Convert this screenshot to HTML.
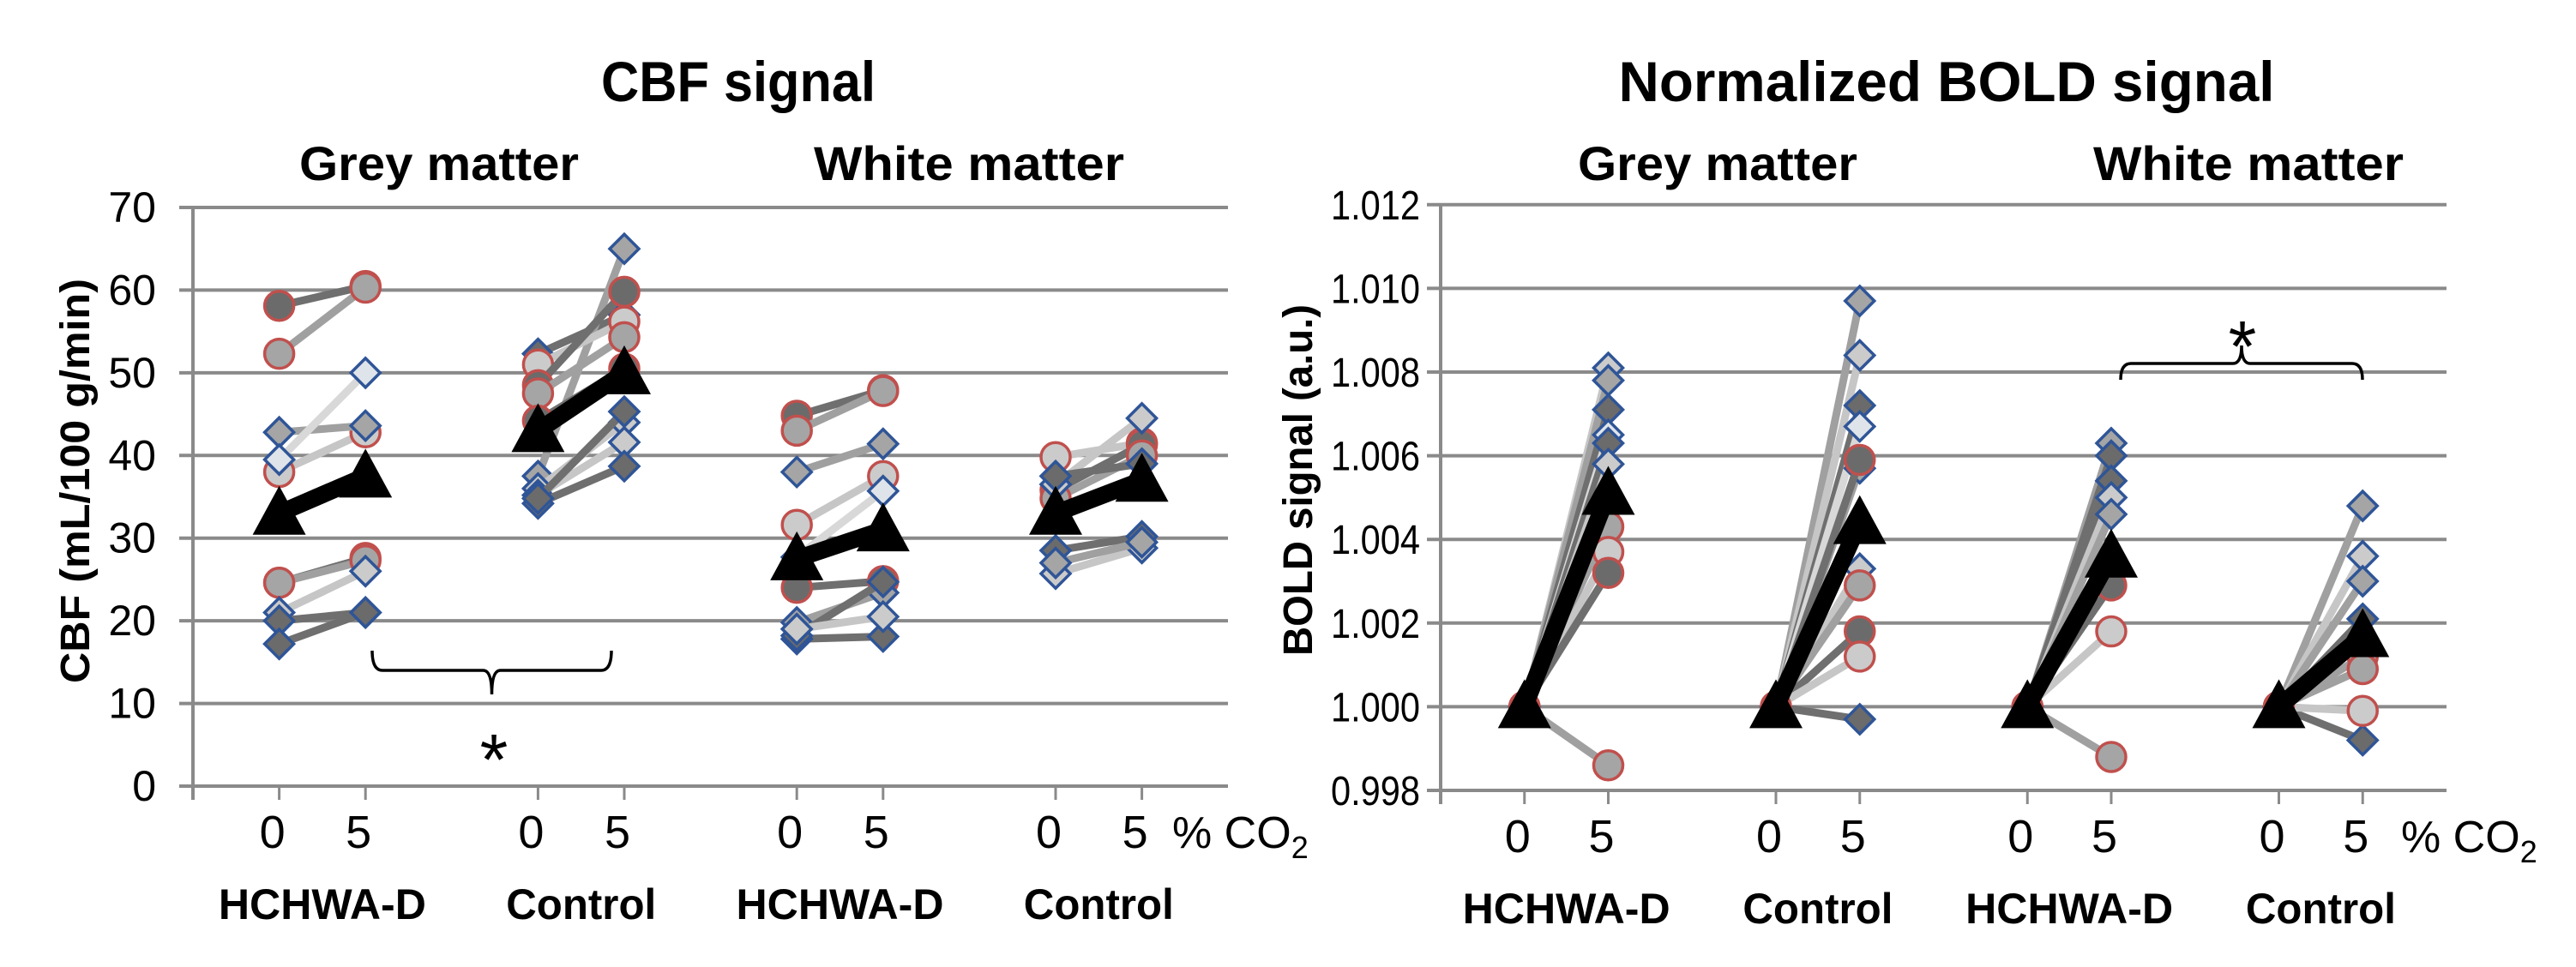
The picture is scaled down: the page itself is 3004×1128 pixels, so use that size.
<!DOCTYPE html>
<html><head><meta charset="utf-8"><style>
html,body{margin:0;padding:0;background:#fff;}
svg{display:block;font-family:"Liberation Sans",sans-serif;}
</style></head><body>
<svg id="fig" width="3004" height="1128" viewBox="0 0 3004 1128" xmlns="http://www.w3.org/2000/svg">
<g id="static">
<text x="861" y="118" font-size="66" font-weight="bold" text-anchor="middle" textLength="320" lengthAdjust="spacingAndGlyphs">CBF signal</text>
<text x="2270" y="118" font-size="66" font-weight="bold" text-anchor="middle" textLength="765" lengthAdjust="spacingAndGlyphs">Normalized BOLD signal</text>
<text x="512" y="210" font-size="56" font-weight="bold" text-anchor="middle" textLength="326" lengthAdjust="spacingAndGlyphs">Grey matter</text>
<text x="1130" y="210" font-size="56" font-weight="bold" text-anchor="middle" textLength="362" lengthAdjust="spacingAndGlyphs">White matter</text>
<text x="2003" y="210" font-size="56" font-weight="bold" text-anchor="middle" textLength="326" lengthAdjust="spacingAndGlyphs">Grey matter</text>
<text x="2622" y="210" font-size="56" font-weight="bold" text-anchor="middle" textLength="362" lengthAdjust="spacingAndGlyphs">White matter</text>
<text transform="translate(104,561) rotate(-90)" font-size="48" font-weight="bold" text-anchor="middle" textLength="472" lengthAdjust="spacingAndGlyphs">CBF (mL/100 g/min)</text>
<text transform="translate(1530,560) rotate(-90)" font-size="48" font-weight="bold" text-anchor="middle" textLength="410" lengthAdjust="spacingAndGlyphs">BOLD signal (a.u.)</text>
</g>
<g id="plots"></g>
</svg>
<script>
// ---------- CBF data (mL/100 g/min) ----------
const cbfGroups = ["HCHWA-D","Control","HCHWA-D","Control"];
const cbfTicks = [0,10,20,30,40,50,60,70];
const cbfGreyH0 = [58.1,52.3,38.0,24.6,24.6,42.8,39.5,21.0,20.0,17.2];
const cbfGreyH5 = [60.5,60.3,42.8,27.6,27.3,43.6,50.0,26.0,21.0,21.0];
const cbfGreyHStyle = ["cd","cm","cl","cd","cm","dm","dv","dl","dd","dd"];
const cbfGreyC0 = [52.3,37.5,36.0,35.2,34.2,34.8,51.0,48.5,47.5,44.2];
const cbfGreyC5 = [57.0,65.0,44.0,41.6,38.7,45.3,56.2,59.8,54.3,50.5];
const cbfGreyCStyle = ["dd","dm","dl","dl","dd","dd","cl","cd","cm","cd"];
const cbfWhiteH0 = [44.8,43.0,31.6,24.0,38.0,19.8,17.8,18.2,27.7,19.0];
const cbfWhiteH5 = [47.9,47.8,37.5,24.8,41.4,23.4,18.1,24.7,35.7,20.5];
const cbfWhiteHStyle = ["cd","cm","cl","cd","dm","dm","dd","dd","dv","dl"];
const cbfWhiteC0 = [39.8,35.8,34.8,36.5,28.5,25.7,27.0,37.5];
const cbfWhiteC5 = [41.5,41.3,40.0,44.5,30.2,28.8,29.5,39.0];
const cbfWhiteCStyle = ["cl","cd","cm","dl","dd","dl","dm","dd"];
const cbfMean0 = [33.0,43.0,27.5,33.0];
const cbfMean5 = [37.5,50.0,31.0,37.0];

// ---------- BOLD data (normalized, baseline 1.000) ----------
const boldTicks = [0.998,1.000,1.002,1.004,1.006,1.008,1.010,1.012];
const boldGreyH5 = [1.0081,1.0078,1.0071,1.0065,1.0063,1.0058,1.0043,1.0037,1.0032,0.9986];
const boldGreyHStyle = ["dl","dm","dd","dv","dd","dl","cm","cl","cd","cm"];
const boldGreyC5 = [1.0097,1.0084,1.0072,1.0067,1.0057,1.0033,0.9997,1.0059,1.0029,1.0018,1.0012];
const boldGreyCStyle = ["dm","dl","dd","dv","dm","dl","dd","cd","cm","cd","cl"];
const boldWhiteH5 = [1.0063,1.0060,1.0054,1.0050,1.0046,1.0029,1.0018,0.9988];
const boldWhiteHStyle = ["dm","dd","dd","dl","dm","cd","cl","cm"];
const boldWhiteC5 = [1.0048,1.0036,1.0030,1.0021,0.9992,1.0012,1.0009,0.9999];
const boldWhiteCStyle = ["dm","dl","dm","dd","dd","cm","cm","cl"];
const boldMean0 = [1.000,1.000,1.000,1.000];
const boldMean5 = [1.0051,1.0044,1.0036,1.0017];

const NS = "http://www.w3.org/2000/svg";
const root = document.getElementById("plots");
const FILL = {d:"#6b6b6b", m:"#a5a5a5", l:"#cbcbcb", v:"#dfe4ea"};
const LINE = {d:"#6f6f6f", m:"#a0a0a0", l:"#c6c6c6", v:"#d8d8d8"};
const GROUP_W = {"HCHWA-D":242, "Control":175};

function mk(tag, attrs, parent){
  const e = document.createElementNS(NS, tag);
  for (const k in attrs) e.setAttribute(k, attrs[k]);
  (parent||root).appendChild(e);
  return e;
}

function makeAxes(cfg){
  const g = mk("g", {});
  
  
  cfg.ticks.forEach(t => {
    const y = cfg.y(t);
    const ln = mk("line", {x1: cfg.x0 - 16, x2: cfg.x1, y1: y, y2: y, stroke: "#8a8a8a", "stroke-width": 4}, g);
    
    
    const attrs = {x: cfg.labelX, y: y + 17, "font-size": cfg.labelFont, "text-anchor": "end"};
    if (cfg.labelLen) { attrs.textLength = cfg.labelLen; attrs.lengthAdjust = "spacingAndGlyphs"; }
    const tx = mk("text", attrs, g);
    
    
    tx.textContent = cfg.fmt(t);
  });
  const ax = mk("line", {x1: cfg.x0, x2: cfg.x0, y1: cfg.y(cfg.ticks[0]) + 16, y2: cfg.y(cfg.ticks[cfg.ticks.length-1]), stroke: "#8a8a8a", "stroke-width": 4}, g);
  
  
  const yb = cfg.y(cfg.ticks[0]);
  [1,2,4,5,7,8,10,11].forEach((k, i) => {
    const x = cfg.xs(k);
    const tk = mk("line", {x1: x, x2: x, y1: yb, y2: yb + 16, stroke: "#8a8a8a", "stroke-width": 3}, g);
    
    
    const lb = mk("text", {x: x - 8, y: yb + 72, "font-size": 54, "text-anchor": "middle"}, g);
    
    
    lb.textContent = (i % 2 === 0) ? "0" : "5";
  });
  cfg.groups.forEach((gname, i) => {
    const x = (cfg.xs(1 + 3*i) + cfg.xs(2 + 3*i)) / 2;
    const t = mk("text", {x: x, y: yb + 155, "font-size": 50, "font-weight": "bold", "text-anchor": "middle", textLength: GROUP_W[gname], lengthAdjust: "spacingAndGlyphs"}, g);
    
    
    t.textContent = gname;
  });
  const co = mk("text", {x: cfg.coX, y: yb + 72, "font-size": 52}, g);
  
  
  co.innerHTML = '% CO<tspan font-size="36" dy="12">2</tspan>';
}

function marker(style, x, y, g){
  const shape = style[0], shade = style[1];
  let m;
  if (shape === "c") {
    m = mk("circle", {cx: x, cy: y, r: 17, fill: FILL[shade], stroke: "#c0504d", "stroke-width": 3.5}, g);
  } else {
    const s = 17;
    m = mk("polygon", {points: `${x},${y-s} ${x+s},${y} ${x},${y+s} ${x-s},${y}`, fill: FILL[shade], stroke: "#2f5597", "stroke-width": 3.5}, g);
  }
  
  
}

function series(cfg, k, v0arr, v5arr, styles, name){
  const g = mk("g", {});
  
  
  v5arr.forEach((v5, i) => {
    const v0 = v0arr[i];
    const st = styles[i];
    const x0 = cfg.xs(k), x5 = cfg.xs(k+1), y0 = cfg.y(v0), y5 = cfg.y(v5);
    const ln = mk("line", {x1: x0, y1: y0, x2: x5, y2: y5, stroke: LINE[st[1]], "stroke-width": 9, "stroke-linecap": "round"}, g);
    
    
    marker(st, x0, y0, g);
    marker(st, x5, y5, g);
  });
}

function tri(x, y, g){
  const t = mk("polygon", {points: `${x},${y-32} ${x+31},${y+25} ${x-31},${y+25}`, fill: "#000"}, g);
  
  
}

function means(cfg, m0, m5, name){
  const g = mk("g", {});
  
  
  m0.forEach((v0, i) => {
    const k = 1 + 3*i;
    const x0 = cfg.xs(k), x5 = cfg.xs(k+1), y0 = cfg.y(v0), y5 = cfg.y(m5[i]);
    const ln = mk("line", {x1: x0, y1: y0, x2: x5, y2: y5, stroke: "#000", "stroke-width": 20}, g);
    
    
    tri(x0, y0, g);
    tri(x5, y5, g);
  });
}

function brace(xa, xb, yEdge, yLine, yTip, name){
  const xm = (xa + xb) / 2;
  const p = mk("path", {d: `M${xa},${yEdge} Q${xa},${yLine} ${xa+12},${yLine} L${xm-10},${yLine} Q${xm},${yLine} ${xm},${yTip} Q${xm},${yLine} ${xm+10},${yLine} L${xb-12},${yLine} Q${xb},${yLine} ${xb},${yEdge}`, fill: "none", stroke: "#000", "stroke-width": 3.5});
  
  
}
function star(x, y, name){
  const t = mk("text", {x: x, y: y, "font-size": 84, "text-anchor": "middle"});
  
  
  t.textContent = "*";
}

// ---- CBF chart ----
const cbf = {
  name: "cbf", x0: 225, x1: 1432, labelX: 182, coX: 1367, labelFont: 50, labelLen: 0,
  ticks: cbfTicks, groups: cbfGroups,
  fmt: t => String(t),
  y: v => 917 - v * 9.643,
  xs: k => 225 + k * 100.6
};
makeAxes(cbf);
series(cbf, 1, cbfGreyH0, cbfGreyH5, cbfGreyHStyle, "cbf-grey-hchwa-series");
series(cbf, 4, cbfGreyC0, cbfGreyC5, cbfGreyCStyle, "cbf-grey-control-series");
series(cbf, 7, cbfWhiteH0, cbfWhiteH5, cbfWhiteHStyle, "cbf-white-hchwa-series");
series(cbf, 10, cbfWhiteC0, cbfWhiteC5, cbfWhiteCStyle, "cbf-white-control-series");
means(cbf, cbfMean0, cbfMean5, "cbf-mean-series");
brace(434, 713, 759, 782, 810, "cbf-significance-bracket");
star(576, 915, "cbf-significance-star");

// ---- BOLD chart ----
const bold = {
  name: "bold", x0: 1680, x1: 2853, labelX: 1656, coX: 2800, labelFont: 48, labelLen: 104,
  ticks: boldTicks, groups: cbfGroups,
  fmt: t => t.toFixed(3),
  y: v => 922 - (v - 0.998) * 48800,
  xs: k => 1680 + k * 97.75
};
makeAxes(bold);
const base = v => v.map(() => 1.000);
series(bold, 1, base(boldGreyH5), boldGreyH5, boldGreyHStyle, "bold-grey-hchwa-series");
series(bold, 4, base(boldGreyC5), boldGreyC5, boldGreyCStyle, "bold-grey-control-series");
series(bold, 7, base(boldWhiteH5), boldWhiteH5, boldWhiteHStyle, "bold-white-hchwa-series");
series(bold, 10, base(boldWhiteC5), boldWhiteC5, boldWhiteCStyle, "bold-white-control-series");
means(bold, boldMean0, boldMean5, "bold-mean-series");
brace(2473, 2755, 443, 424, 403, "bold-significance-bracket");
star(2615, 433, "bold-significance-star");
</script>
</body></html>
